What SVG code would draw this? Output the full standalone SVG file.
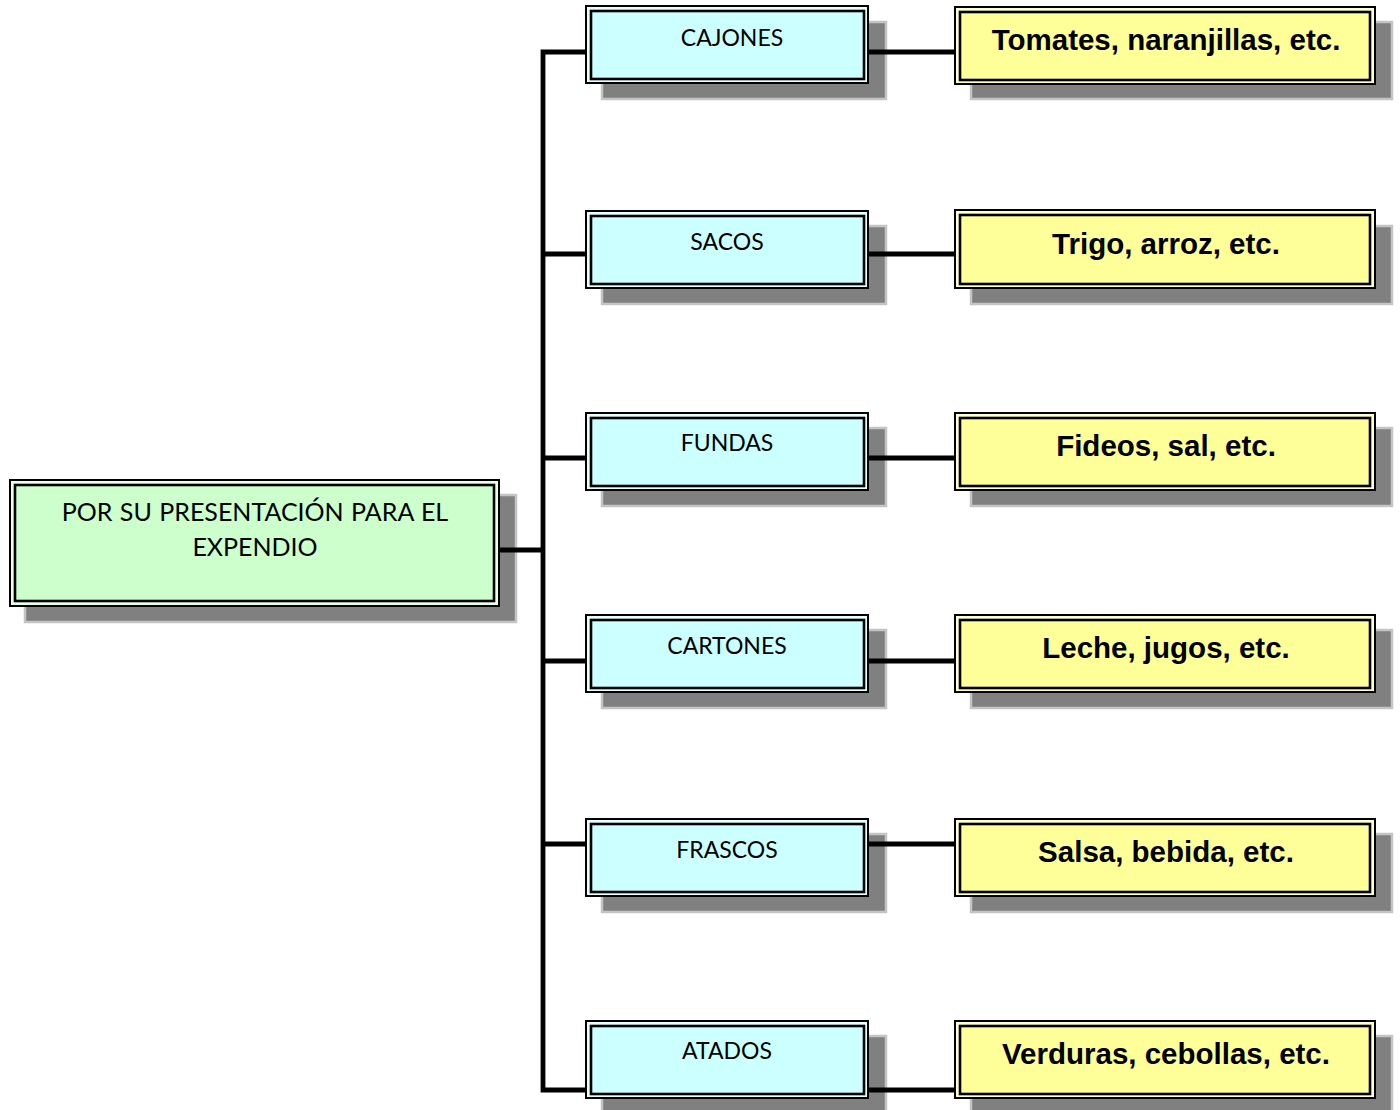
<svg xmlns="http://www.w3.org/2000/svg" width="1400" height="1110" viewBox="0 0 1400 1110">
  <style>
    .shadow { fill: #808080; stroke: #c4c4c4; stroke-width: 2.5; }
    .outer { stroke: #000; stroke-width: 2; }
    .inner { stroke: #000; stroke-width: 2.6; }
    .green .outer { fill: #e8ffe8; }
    .green .inner { fill: #ccffcc; }
    .cyan .outer { fill: #e6ffff; }
    .cyan .inner { fill: #ccffff; }
    .yellow .outer { fill: #ffffd0; }
    .yellow .inner { fill: #ffff99; }
    .lbl { font-family: Lato, "Open Sans", "Liberation Sans", sans-serif; font-size: 23px; fill: #000; text-anchor: middle; }
    .root-lbl { font-size: 25px; word-spacing: 1px; }
    .ex { font-family: "Liberation Sans", Arial, sans-serif; font-weight: bold; font-size: 29.5px; fill: #000; text-anchor: middle; }
    .conn { fill: none; stroke: #000; stroke-width: 4.8; stroke-linejoin: miter; }
  </style>

  <!-- root category -->
  <g id="node-root" class="green">
    <rect class="shadow" x="25" y="495" width="491" height="127"/>
    <rect class="outer" x="10" y="480" width="489" height="126"/>
    <rect class="inner" x="15" y="485" width="479" height="116"/>
    <text class="lbl root-lbl" x="255" y="521">POR SU PRESENTACIÓN PARA EL</text>
    <text class="lbl root-lbl" x="255" y="556">EXPENDIO</text>
  </g>

  <!-- packaging types -->
  <g id="node-cajones" class="cyan">
    <rect class="shadow" x="602" y="22" width="284" height="77"/>
    <rect class="outer" x="586" y="6" width="282" height="77"/>
    <rect class="inner" x="591" y="11" width="273" height="68"/>
    <text class="lbl" x="732" y="46">CAJONES</text>
  </g>
  <g id="node-sacos" class="cyan">
    <rect class="shadow" x="602" y="226" width="284" height="78"/>
    <rect class="outer" x="586" y="211" width="282" height="77"/>
    <rect class="inner" x="591" y="216" width="273" height="68"/>
    <text class="lbl" x="727" y="250">SACOS</text>
  </g>
  <g id="node-fundas" class="cyan">
    <rect class="shadow" x="602" y="428" width="284" height="78"/>
    <rect class="outer" x="586" y="413" width="282" height="77"/>
    <rect class="inner" x="591" y="418" width="273" height="68"/>
    <text class="lbl" x="727" y="451">FUNDAS</text>
  </g>
  <g id="node-cartones" class="cyan">
    <rect class="shadow" x="602" y="630" width="284" height="78"/>
    <rect class="outer" x="586" y="615" width="282" height="77"/>
    <rect class="inner" x="591" y="620" width="273" height="68"/>
    <text class="lbl" x="727" y="654">CARTONES</text>
  </g>
  <g id="node-frascos" class="cyan">
    <rect class="shadow" x="602" y="834" width="284" height="78"/>
    <rect class="outer" x="586" y="819" width="282" height="77"/>
    <rect class="inner" x="591" y="824" width="273" height="68"/>
    <text class="lbl" x="727" y="858">FRASCOS</text>
  </g>
  <g id="node-atados" class="cyan">
    <rect class="shadow" x="602" y="1036" width="284" height="78"/>
    <rect class="outer" x="586" y="1021" width="282" height="77"/>
    <rect class="inner" x="591" y="1026" width="273" height="68"/>
    <text class="lbl" x="727" y="1059">ATADOS</text>
  </g>

  <!-- example products -->
  <g id="node-tomates" class="yellow">
    <rect class="shadow" x="971" y="22" width="421" height="77"/>
    <rect class="outer" x="955" y="7" width="420" height="77"/>
    <rect class="inner" x="960" y="12" width="410" height="68"/>
    <text class="ex" x="1166" y="50">Tomates, naranjillas, etc.</text>
  </g>
  <g id="node-trigo" class="yellow">
    <rect class="shadow" x="971" y="226" width="421" height="78"/>
    <rect class="outer" x="955" y="210" width="420" height="78"/>
    <rect class="inner" x="960" y="215" width="410" height="69"/>
    <text class="ex" x="1166" y="254">Trigo, arroz, etc.</text>
  </g>
  <g id="node-fideos" class="yellow">
    <rect class="shadow" x="971" y="428" width="421" height="78"/>
    <rect class="outer" x="955" y="413" width="420" height="77"/>
    <rect class="inner" x="960" y="418" width="410" height="68"/>
    <text class="ex" x="1166" y="456">Fideos, sal, etc.</text>
  </g>
  <g id="node-leche" class="yellow">
    <rect class="shadow" x="971" y="630" width="421" height="78"/>
    <rect class="outer" x="955" y="615" width="420" height="77"/>
    <rect class="inner" x="960" y="620" width="410" height="68"/>
    <text class="ex" x="1166" y="658">Leche, jugos, etc.</text>
  </g>
  <g id="node-salsa" class="yellow">
    <rect class="shadow" x="971" y="834" width="421" height="78"/>
    <rect class="outer" x="955" y="819" width="420" height="77"/>
    <rect class="inner" x="960" y="824" width="410" height="68"/>
    <text class="ex" x="1166" y="862">Salsa, bebida, etc.</text>
  </g>
  <g id="node-verduras" class="yellow">
    <rect class="shadow" x="971" y="1036" width="421" height="78"/>
    <rect class="outer" x="955" y="1021" width="420" height="77"/>
    <rect class="inner" x="960" y="1026" width="410" height="68"/>
    <text class="ex" x="1166" y="1064">Verduras, cebollas, etc.</text>
  </g>

  <!-- connectors -->
  <g id="connectors">
    <path class="conn" d="M585,52 H543 V1090 H585"/>
    <path class="conn" d="M500,550 H543"/>
    <path class="conn" d="M543,254 H585"/>
    <path class="conn" d="M543,458 H585"/>
    <path class="conn" d="M543,661 H585"/>
    <path class="conn" d="M543,844 H585"/>
    <path class="conn" d="M869,52 H955"/>
    <path class="conn" d="M869,254 H955"/>
    <path class="conn" d="M869,458 H955"/>
    <path class="conn" d="M869,661 H955"/>
    <path class="conn" d="M869,844 H955"/>
    <path class="conn" d="M869,1090 H955"/>
  </g>
</svg>
